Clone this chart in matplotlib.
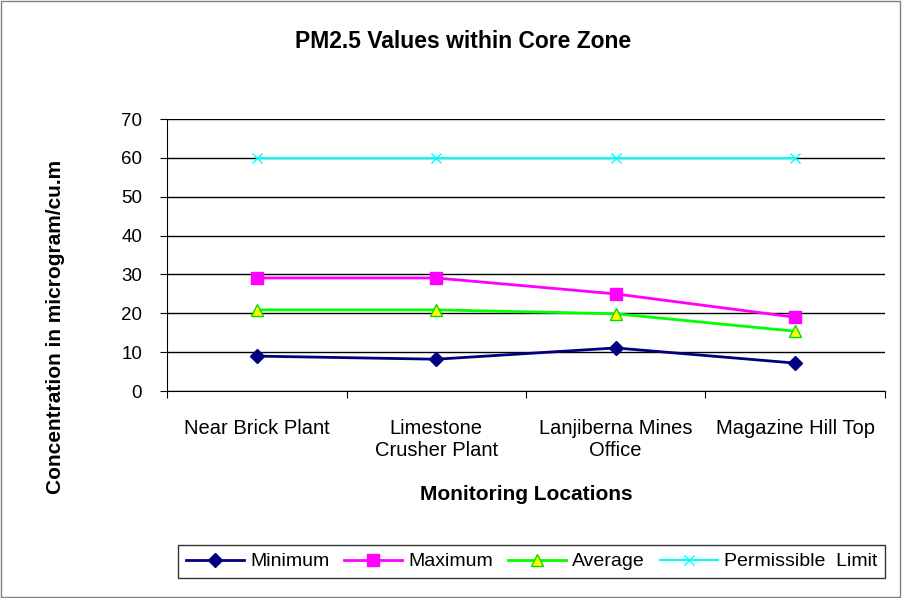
import matplotlib.pyplot as plt
from matplotlib.patches import Rectangle

plt.rcParams['font.family'] = ['Liberation Sans', 'DejaVu Sans']

locations = ["Near Brick Plant", "Limestone\nCrusher Plant",
             "Lanjiberna Mines\nOffice", "Magazine Hill Top"]
minimum = [9.0, 8.2, 11.1, 7.2]
maximum = [29.1, 29.1, 25.0, 19.0]
average = [20.9, 20.9, 19.9, 15.4]
limit = [60, 60, 60, 60]

fig = plt.figure(figsize=(9.03, 5.98), dpi=100)
fig.patches.append(Rectangle((0.001, 0.001), 0.996, 0.997, transform=fig.transFigure,
                             fill=False, edgecolor="#808080", linewidth=1))
ax = fig.add_axes([0.185, 0.346, 0.795, 0.455])

x = range(len(locations))
ax.plot(x, minimum, color="#000080", lw=2, marker="D", ms=7, label="Minimum")
ax.plot(x, maximum, color="#FF00FF", lw=2, marker="s", ms=9, label="Maximum")
ax.plot(x, average, color="#00FF00", lw=2, marker="^", ms=8,
        markerfacecolor="#FFFF00", markeredgecolor="#00DD00", label="Average")
ax.plot(x, limit, color="#00FFFF", lw=1.5, marker="x", ms=7, label="Permissible  Limit")

ax.set_xlim(-0.5, 3.5)
ax.set_ylim(0, 70)
ax.set_yticks(range(0, 71, 10))
ax.yaxis.grid(True, color="black", lw=1)
ax.set_axisbelow(True)
ax.set_xticks([-0.5, 0.5, 1.5, 2.5, 3.5])
ax.set_xticklabels([])
ax.set_xticks(list(x), minor=True)
ax.set_xticklabels(locations, minor=True, fontsize=14.5, linespacing=1.2)
ax.tick_params(axis="x", which="minor", length=0, pad=20)
ax.tick_params(axis="x", which="major", length=5, direction="out")
ax.tick_params(axis="y", labelsize=13.5, length=5, direction="out", pad=13)
for s in ["top", "right"]:
    ax.spines[s].set_visible(False)
for s in ["left", "bottom"]:
    ax.spines[s].set_color("black")

ax.set_xlabel("Monitoring Locations", fontsize=15, fontweight="bold", labelpad=18)
fig.text(0.061, 0.453, "Concentration in microgram/cu.m", rotation=90,
         fontsize=15, fontweight="bold", ha="center", va="center")
fig.text(0.513, 0.93, "PM2.5 Values within Core Zone", fontsize=16.5,
         fontweight="bold", ha="center", va="center")

leg = fig.legend(loc="center", bbox_to_anchor=(178 / 903, 1 - 583 / 598, 707 / 903, 43 / 598),
                 mode="expand", ncol=4, fontsize=14, frameon=True, fancybox=False,
                 edgecolor="black", handlelength=3, handletextpad=0.3, borderaxespad=0)
leg.get_frame().set_linewidth(1)

fig.savefig("out.png", dpi=100)
